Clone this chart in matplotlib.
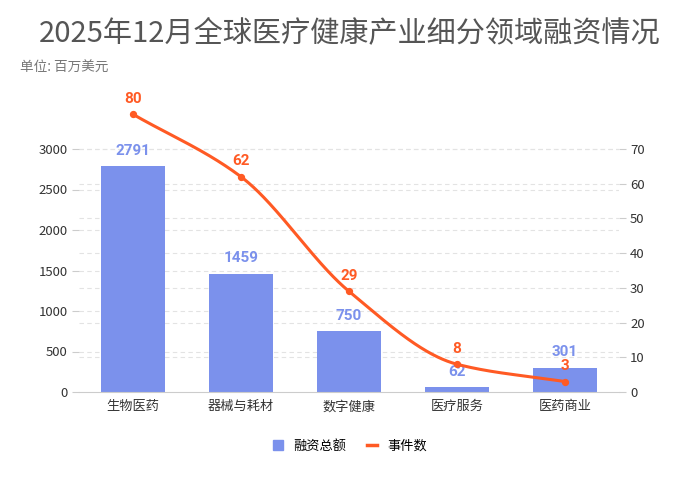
import matplotlib
matplotlib.use("Agg")
import matplotlib.pyplot as plt
import numpy as np
from matplotlib.lines import Line2D
from matplotlib.patches import Patch

plt.rcParams['font.family'] = ['Noto Sans CJK SC', 'DejaVu Sans']

categories = ["生物医药", "器械与耗材", "数字健康", "医疗服务", "医药商业"]
funding = [2791, 1459, 750, 62, 301]
events = [80, 62, 29, 8, 3]
left_ticks = [0, 500, 1000, 1500, 2000, 2500, 3000]
right_ticks = [0, 10, 20, 30, 40, 50, 60, 70]

bar_color = "#7B91EC"
line_color = "#FF5A24"
label_font = ['Roboto', 'DejaVu Sans']

fig = plt.figure(figsize=(7.0, 4.92), dpi=100)
ax = fig.add_axes([79/700, 1-392/492, 540/700, 292/492])
ax2 = ax.twinx()

x = np.arange(len(categories))
ax.bar(x, funding, width=0.6, color=bar_color, zorder=2)
for xi, v in zip(x, funding):
    ax.annotate(str(v), (xi, v), xytext=(0, 6), textcoords="offset points",
                ha="center", va="bottom", color=bar_color, fontsize=11, fontweight="bold",
                family=label_font)

# monotone cubic (Fritsch-Carlson) smoothing through the data points
def monotone(xs, ys, n=200):
    xs = np.asarray(xs, float); ys = np.asarray(ys, float)
    h = np.diff(xs); d = np.diff(ys) / h
    m = np.zeros_like(ys)
    m[0] = d[0]; m[-1] = d[-1]
    for i in range(1, len(ys) - 1):
        if d[i-1] * d[i] <= 0:
            m[i] = 0
        else:
            m[i] = 2 / (1/d[i-1] + 1/d[i])
    xx = []; yy = []
    for i in range(len(xs) - 1):
        t = np.linspace(0, 1, n)
        h00 = 2*t**3 - 3*t**2 + 1; h10 = t**3 - 2*t**2 + t
        h01 = -2*t**3 + 3*t**2; h11 = t**3 - t**2
        xx.append(xs[i] + t*h[i])
        yy.append(h00*ys[i] + h10*h[i]*m[i] + h01*ys[i+1] + h11*h[i]*m[i+1])
    return np.concatenate(xx), np.concatenate(yy)

sx, sy = monotone(x, events)
ax2.plot(sx, sy, color=line_color, lw=2.2, zorder=3, clip_on=False)
ax2.scatter(x, events, color=line_color, s=18, zorder=4, clip_on=False)
for xi, v in zip(x, events):
    ax2.annotate(str(v), (xi, v), xytext=(0, 6), textcoords="offset points",
                 ha="center", va="bottom", color=line_color, fontsize=11, fontweight="bold",
                 family=label_font)

lmax = 3000 * 292 / 243
ratio = 3000 / 70
ax.set_ylim(0, lmax)
ax2.set_ylim(0, lmax / ratio)
ax.set_xlim(-0.5, 4.5)
ax.set_yticks(left_ticks)
ax2.set_yticks(right_ticks)
ax.set_xticks(x)
ax.set_xticklabels(categories, fontsize=9.5, color="#333333")

for a in (ax, ax2):
    for s in a.spines.values():
        s.set_visible(False)
    a.tick_params(axis='y', length=5, color="#cccccc", labelsize=9.5, labelcolor="#333333", pad=3)
ax.tick_params(axis='x', length=0, pad=6)
ax.spines['bottom'].set_visible(True)
ax.spines['bottom'].set_color("#cccccc")

# gridlines for both scales, drawn behind the bars
for t in left_ticks[1:]:
    ax.axhline(t, color="#e3e3e3", lw=0.8, ls=(0, (4, 3)), zorder=0)
for t in right_ticks[1:]:
    ax.axhline(t * ratio, color="#e3e3e3", lw=0.8, ls=(0, (4, 3)), zorder=0)

fig.text(0.5, 1-33/492, "2025年12月全球医疗健康产业细分领域融资情况", ha="center", va="center",
         fontsize=21, color="#555555")
fig.text(20/700, 1-68/492, "单位: 百万美元", ha="left", va="center", fontsize=9.8, color="#777777")

handles = [Patch(facecolor=bar_color, edgecolor=bar_color),
           Line2D([0], [0], color=line_color, lw=2.5)]
fig.legend(handles, ["融资总额", "事件数"], loc="center", bbox_to_anchor=(0.5, 1-446/492),
           ncol=2, frameon=False, fontsize=9.5, handlelength=0.8, handleheight=0.8,
           columnspacing=1.5, handletextpad=0.8)

fig.savefig("out.png", dpi=100)
